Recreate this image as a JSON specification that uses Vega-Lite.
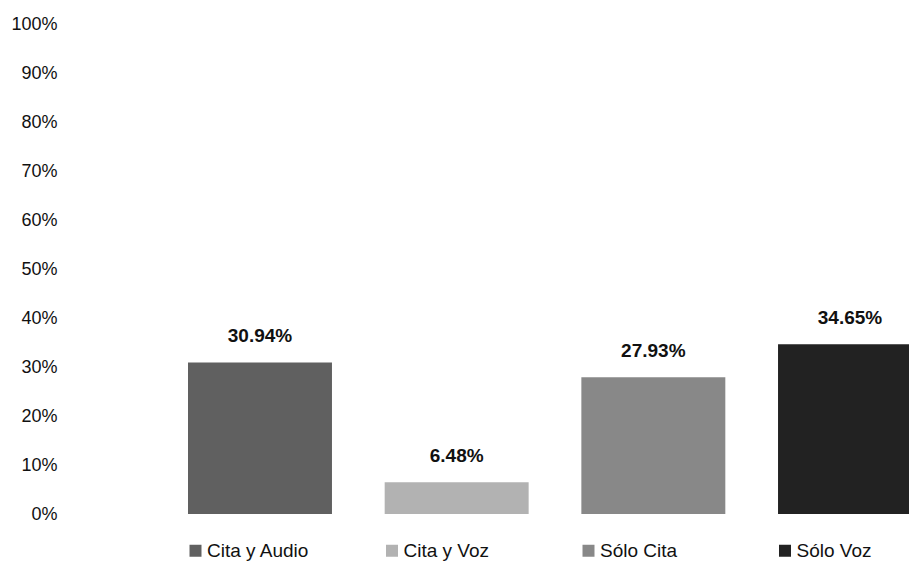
{
  "$schema": "https://vega.github.io/schema/vega-lite/v6.json",
  "width": 847,
  "height": 490,
  "autosize": {"type": "none"},
  "padding": {"left": 62, "top": 24, "right": 0, "bottom": 48},
  "background": "white",
  "config": {
    "view": {"stroke": null},
    "font": "Liberation Sans"
  },
  "data": {
    "values": [
      {"categoria": "Cita y Audio", "valor": 0.3094},
      {"categoria": "Cita y Voz", "valor": 0.0648},
      {"categoria": "Sólo Cita", "valor": 0.2793},
      {"categoria": "Sólo Voz", "valor": 0.3465}
    ]
  },
  "encoding": {
    "x": {
      "field": "categoria",
      "type": "nominal",
      "sort": null,
      "scale": {"range": [126, 860], "paddingInner": 0.268, "paddingOuter": 0},
      "axis": null
    },
    "y": {
      "field": "valor",
      "type": "quantitative",
      "scale": {"domain": [0, 1]},
      "axis": {
        "format": ".0%",
        "values": [0, 0.1, 0.2, 0.3, 0.4, 0.5, 0.6, 0.7, 0.8, 0.9, 1],
        "grid": false,
        "domain": false,
        "ticks": false,
        "tickSize": 0,
        "labelPadding": 5,
        "labelFont": "Liberation Sans",
        "labelFontSize": 18,
        "labelColor": "#111111",
        "title": null
      }
    }
  },
  "layer": [
    {
      "mark": {"type": "bar"},
      "encoding": {
        "color": {
          "field": "categoria",
          "type": "nominal",
          "sort": null,
          "scale": {
            "domain": ["Cita y Audio", "Cita y Voz", "Sólo Cita", "Sólo Voz"],
            "range": ["#606060", "#b2b2b2", "#888888", "#222222"]
          },
          "legend": {
            "orient": "none",
            "legendX": 124,
            "legendY": 517,
            "direction": "horizontal",
            "columns": 4,
            "gridAlign": "all",
            "columnPadding": 72.5,
            "padding": 0,
            "title": null,
            "symbolType": "square",
            "symbolSize": 144,
            "symbolStrokeWidth": 0,
            "symbolOpacity": 1,
            "labelOffset": 2,
            "labelFont": "Liberation Sans",
            "labelFontSize": 19,
            "labelColor": "#111111",
            "labelLimit": 300
          }
        }
      }
    },
    {
      "mark": {
        "type": "text",
        "dy": -26,
        "fontSize": 19,
        "fontWeight": "bold",
        "font": "Liberation Sans",
        "color": "#111111"
      },
      "encoding": {
        "text": {"field": "valor", "type": "quantitative", "format": ".2%"}
      }
    }
  ]
}
